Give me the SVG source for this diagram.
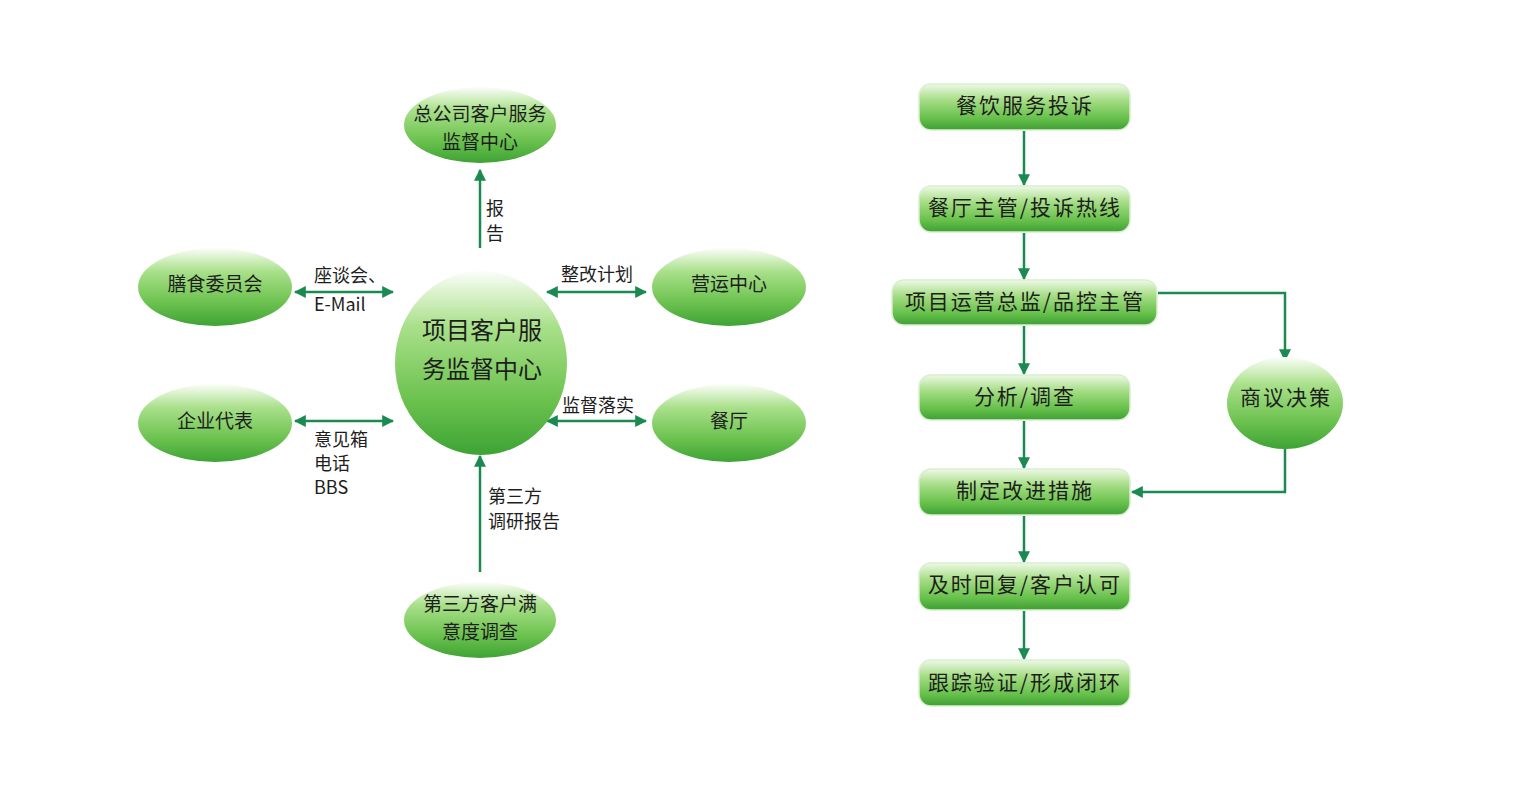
<svg xmlns="http://www.w3.org/2000/svg" width="1537" height="787" viewBox="0 0 1537 787">
<defs>
<linearGradient id="gEl" x1="0" y1="0" x2="0" y2="1">
<stop offset="0" stop-color="#fbfef9"/>
<stop offset="0.3" stop-color="#a9e08a"/>
<stop offset="0.7" stop-color="#6cc24f"/>
<stop offset="1" stop-color="#3da334"/>
</linearGradient>
<linearGradient id="gRc" x1="0" y1="0" x2="0" y2="1">
<stop offset="0" stop-color="#eef9e6"/>
<stop offset="0.35" stop-color="#a5dd85"/>
<stop offset="0.75" stop-color="#66c04a"/>
<stop offset="1" stop-color="#3f9f35"/>
</linearGradient>
<marker id="ah" viewBox="0 0 10 10" refX="9" refY="5" markerWidth="12" markerHeight="12" markerUnits="userSpaceOnUse" orient="auto-start-reverse">
<path d="M0,0 L10,5 L0,10 z" fill="#1a8a50"/>
</marker>
<style>
.el{fill:url(#gEl);}
.rc{fill:url(#gRc);stroke:#d8efd0;stroke-width:1.5;}
.t{font-family:"Noto Sans CJK SC","Noto Sans",sans-serif;font-size:19px;fill:#1e1e1e;text-anchor:middle;}
.tr{font-family:"Noto Sans CJK SC","Noto Sans",sans-serif;font-size:21px;letter-spacing:2px;fill:#1e1e1e;text-anchor:middle;}
.tb{font-family:"Noto Sans CJK SC","Noto Sans",sans-serif;font-size:24px;fill:#1e1e1e;text-anchor:middle;}
.lb{font-family:"Noto Sans CJK SC","Noto Sans",sans-serif;font-size:18px;fill:#1e1e1e;}
.c{stroke:#1a8a50;stroke-width:2.5;fill:none;}
</style>
</defs>
<rect width="1537" height="787" fill="#ffffff"/>

<g id="connectors">
<line class="c" x1="480" y1="248" x2="480" y2="170" marker-end="url(#ah)"/>
<line class="c" x1="295" y1="292" x2="393" y2="292" marker-start="url(#ah)" marker-end="url(#ah)"/>
<line class="c" x1="295" y1="421" x2="393" y2="421" marker-start="url(#ah)" marker-end="url(#ah)"/>
<line class="c" x1="547" y1="292" x2="646" y2="292" marker-start="url(#ah)" marker-end="url(#ah)"/>
<line class="c" x1="547" y1="421" x2="646" y2="421" marker-start="url(#ah)" marker-end="url(#ah)"/>
<line class="c" x1="480" y1="572" x2="480" y2="456" marker-end="url(#ah)"/>
<line class="c" x1="1024" y1="131" x2="1024" y2="185" marker-end="url(#ah)"/>
<line class="c" x1="1024" y1="233" x2="1024" y2="279" marker-end="url(#ah)"/>
<line class="c" x1="1024" y1="326" x2="1024" y2="374" marker-end="url(#ah)"/>
<line class="c" x1="1024" y1="421" x2="1024" y2="468" marker-end="url(#ah)"/>
<line class="c" x1="1024" y1="516" x2="1024" y2="562" marker-end="url(#ah)"/>
<line class="c" x1="1024" y1="611" x2="1024" y2="659" marker-end="url(#ah)"/>
<polyline class="c" points="1158,293 1285,293 1285,360" marker-end="url(#ah)"/>
<polyline class="c" points="1285,430 1285,492 1132,492" marker-end="url(#ah)"/>
<text class="lb" x="314" y="282">座谈会、</text>
<text class="lb" x="314" y="311">E-Mail</text>
<text class="lb" x="561" y="281">整改计划</text>
<text class="lb" x="562" y="412">监督落实</text>
<text class="lb" x="314" y="446">意见箱</text>
<text class="lb" x="314" y="470">电话</text>
<text class="lb" x="314" y="494">BBS</text>
<text class="lb" x="486" y="215">报</text>
<text class="lb" x="486" y="240">告</text>
<text class="lb" x="488" y="503">第三方</text>
<text class="lb" x="488" y="528">调研报告</text>
</g>

<g id="n-hq">
<ellipse class="el" cx="480" cy="125" rx="76" ry="38"/>
<text class="t" x="480" y="121">总公司客户服务</text>
<text class="t" x="480" y="149">监督中心</text>
</g>
<g id="n-shanshi">
<ellipse class="el" cx="215" cy="287" rx="77" ry="39"/>
<text class="t" x="215" y="291">膳食委员会</text>
</g>
<g id="n-qiye">
<ellipse class="el" cx="215" cy="423" rx="77" ry="39"/>
<text class="t" x="215" y="428">企业代表</text>
</g>
<g id="n-yingyun">
<ellipse class="el" cx="729" cy="287" rx="77" ry="39"/>
<text class="t" x="729" y="291">营运中心</text>
</g>
<g id="n-canting">
<ellipse class="el" cx="729" cy="423" rx="77" ry="39"/>
<text class="t" x="729" y="428">餐厅</text>
</g>
<g id="n-center">
<ellipse class="el" cx="481" cy="363" rx="86" ry="92"/>
<text class="tb" x="482" y="339">项目客户服</text>
<text class="tb" x="482" y="378">务监督中心</text>
</g>
<g id="n-survey">
<ellipse class="el" cx="480" cy="620" rx="76" ry="38"/>
<text class="t" x="480" y="611">第三方客户满</text>
<text class="t" x="480" y="639">意度调查</text>
</g>

<g id="r1">
<rect class="rc" x="919" y="84" width="211" height="46" rx="12"/>
<text class="tr" x="1025" y="113">餐饮服务投诉</text>
</g>
<g id="r2">
<rect class="rc" x="919" y="186" width="211" height="46" rx="12"/>
<text class="tr" x="1025" y="215">餐厅主管/投诉热线</text>
</g>
<g id="r3">
<rect class="rc" x="892" y="280" width="265" height="45" rx="12"/>
<text class="tr" x="1025" y="309">项目运营总监/品控主管</text>
</g>
<g id="r4">
<rect class="rc" x="919" y="375" width="211" height="45" rx="12"/>
<text class="tr" x="1025" y="404">分析/调查</text>
</g>
<g id="r5">
<rect class="rc" x="919" y="469" width="211" height="46" rx="12"/>
<text class="tr" x="1025" y="498">制定改进措施</text>
</g>
<g id="r6">
<rect class="rc" x="919" y="563" width="211" height="47" rx="12"/>
<text class="tr" x="1025" y="592">及时回复/客户认可</text>
</g>
<g id="r7">
<rect class="rc" x="919" y="660" width="211" height="46" rx="12"/>
<text class="tr" x="1025" y="690">跟踪验证/形成闭环</text>
</g>
<g id="n-decide">
<ellipse class="el" cx="1285" cy="403" rx="58" ry="46"/>
<text class="tr" x="1286" y="405">商议决策</text>
</g>
</svg>
